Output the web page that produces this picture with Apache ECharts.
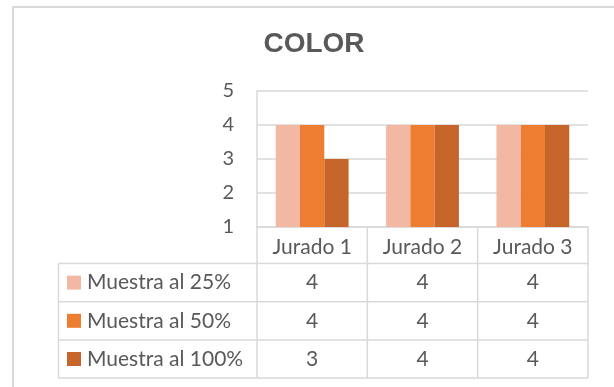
<!DOCTYPE html>
<html>
<head>
<meta charset="utf-8">
<script src="https://cdn.jsdelivr.net/npm/echarts@6/dist/echarts.min.js"></script>
<style>
  html, body { margin: 0; padding: 0; background: #ffffff; }
  #chart { width: 614px; height: 387px; }
</style>
</head>
<body>
<div id="chart"></div>
<script>
// Scores given by each jury member for colour
const categories = ['Jurado 1', 'Jurado 2', 'Jurado 3'];
const seriesNames = ['Muestra al 25%', 'Muestra al 50%', 'Muestra al 100%'];
const muestra25 = [4, 4, 4];
const muestra50 = [4, 4, 4];
const muestra100 = [3, 4, 4];
const yMin = 1;
const yMax = 5;
const yStep = 1;

const seriesData = [muestra25, muestra50, muestra100];
const colors = ['#F3B8A4', '#ED7D31', '#C5652A'];
const textColor = '#595959';
const lineColor = '#D9D9D9';
const font = 'Lato, "Open Sans", sans-serif';

const chart = echarts.init(document.getElementById('chart'), null, { renderer: 'canvas' });

const grid = { left: 257, right: 26, top: 91, bottom: 160 };

chart.setOption({
  animation: false,
  backgroundColor: '#ffffff',
  grid: grid,
  xAxis: {
    type: 'category',
    data: categories,
    axisLine: { show: true, lineStyle: { color: lineColor, width: 1.5 } },
    axisTick: { show: false },
    axisLabel: { color: textColor, fontFamily: font, fontSize: 21, margin: 10 }
  },
  yAxis: {
    type: 'value',
    min: yMin,
    max: yMax,
    interval: yStep,
    axisLine: { show: true, lineStyle: { color: lineColor, width: 1.5 } },
    axisTick: { show: false },
    axisLabel: { color: textColor, fontFamily: font, fontSize: 20, margin: 23 },
    splitLine: { show: true, lineStyle: { color: lineColor, width: 1.5 } }
  },
  series: seriesNames.map((name, i) => ({
    name: name,
    type: 'bar',
    data: seriesData[i],
    barGap: '0%',
    barCategoryGap: '34%',
    itemStyle: { color: colors[i] }
  }))
});

// Data table under the plot, aligned with the category axis bands
function buildTable() {
  const centers = categories.map((c, i) => chart.convertToPixel({ xAxisIndex: 0 }, i));
  const band = centers.length > 1 ? centers[1] - centers[0] : 110;
  const axisY = chart.convertToPixel({ yAxisIndex: 0 }, yMin);
  const headTop = axisY;
  const rowTop = 263.5;
  const rowH = 38.2;
  const tableLeft = 58.5;
  const tableRight = centers[centers.length - 1] + band / 2;
  const tableBottom = rowTop + rowH * seriesNames.length;
  const lineStyle = { stroke: lineColor, lineWidth: 1.5 };
  const els = [];

  // chart frame
  els.push({
    type: 'rect', silent: true, z: 0,
    shape: { x: 13, y: 7, width: 700, height: 500 },
    style: { fill: 'none', stroke: lineColor, lineWidth: 2 }
  });

  // title
  els.push({
    type: 'text', z: 10, x: 314, y: 44,
    style: {
      text: 'COLOR', fill: textColor, align: 'center', verticalAlign: 'middle',
      font: 'bold 28px "Liberation Sans", Arial, sans-serif'
    }
  });

  // vertical rules: category band edges from the axis down through the table
  centers.forEach((cx, i) => {
    els.push({ type: 'line', z: 5, shape: { x1: cx - band / 2, y1: headTop, x2: cx - band / 2, y2: tableBottom }, style: lineStyle });
  });
  els.push({ type: 'line', z: 5, shape: { x1: tableRight, y1: headTop, x2: tableRight, y2: tableBottom }, style: lineStyle });
  els.push({ type: 'line', z: 5, shape: { x1: tableLeft, y1: rowTop, x2: tableLeft, y2: tableBottom }, style: lineStyle });

  // horizontal rules
  for (let r = 0; r <= seriesNames.length; r++) {
    const y = rowTop + rowH * r;
    els.push({ type: 'line', z: 5, shape: { x1: tableLeft, y1: y, x2: tableRight, y2: y }, style: lineStyle });
  }

  // rows: legend key, series name and values
  seriesNames.forEach((name, r) => {
    const cy = rowTop + rowH * (r + 0.5);
    els.push({
      type: 'rect', z: 6,
      shape: { x: 67, y: cy - 7, width: 14, height: 14 },
      style: { fill: colors[r] }
    });
    els.push({
      type: 'text', z: 6, x: 87, y: cy,
      style: { text: name, fill: textColor, align: 'left', verticalAlign: 'middle', font: '21px ' + font }
    });
    seriesData[r].forEach((v, c) => {
      els.push({
        type: 'text', z: 6, x: centers[c], y: cy,
        style: { text: String(v), fill: textColor, align: 'center', verticalAlign: 'middle', font: '21px ' + font }
      });
    });
  });

  chart.setOption({ graphic: { elements: els } });
}

buildTable();
</script>
</body>
</html>
